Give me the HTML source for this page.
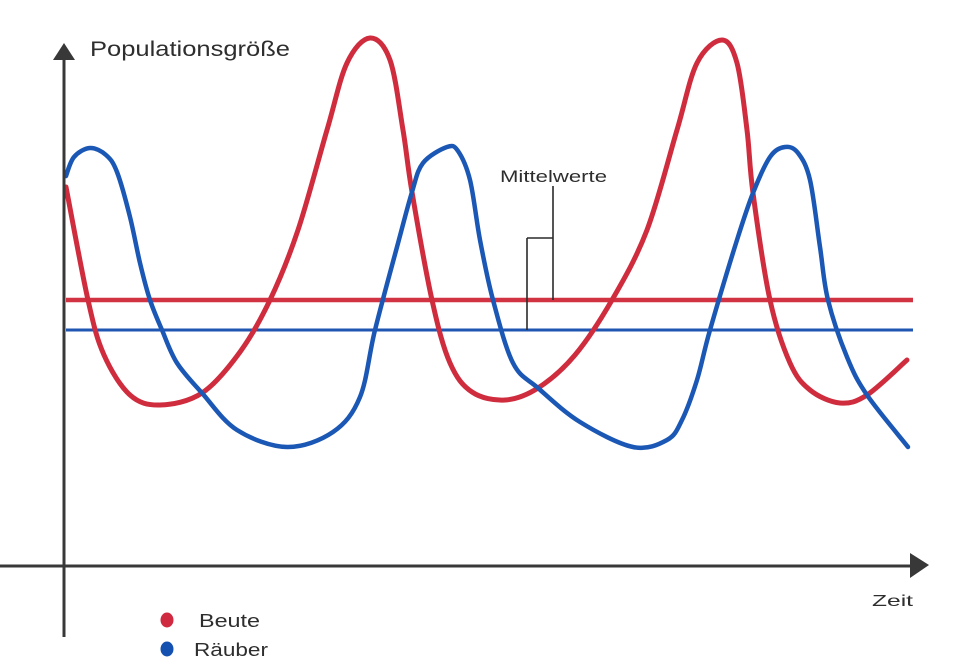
<!DOCTYPE html>
<html>
<head>
<meta charset="utf-8">
<style>
html,body{margin:0;padding:0;background:#ffffff;}
svg{display:block;}
text{font-family:"Liberation Sans","DejaVu Sans",sans-serif;fill:#2e2e2e;}
</style>
</head>
<body>
<svg width="960" height="668" viewBox="0 0 960 668" xmlns="http://www.w3.org/2000/svg">
<rect width="960" height="668" fill="#ffffff"/>
<line x1="66" y1="300" x2="913" y2="300" stroke="#d23343" stroke-width="4.5"/>
<line x1="66" y1="330" x2="913" y2="330" stroke="#1f56b2" stroke-width="3"/>
<g stroke="#2a2a2a" stroke-width="1.6" fill="none">
<line x1="553" y1="186" x2="553" y2="300"/>
<line x1="527" y1="238" x2="553" y2="238"/>
<line x1="527" y1="238" x2="527" y2="330"/>
</g>
<text x="500" y="182" font-size="17" textLength="107" lengthAdjust="spacingAndGlyphs">Mittelwerte</text>
<path fill="none" stroke="#cf2c3e" stroke-width="5" stroke-linecap="round" stroke-linejoin="round" d="M66,187 C69.7,205.8 81.7,272 88,300 C94.3,328 97,339.2 104,355 C111,370.8 120.7,386.7 130,395 C139.3,403.3 148,405.3 160,405 C172,404.7 188.7,401.8 202,393 C215.3,384.2 228.7,367.5 240,352 C251.3,336.5 260.3,320.3 270,300 C279.7,279.7 288.5,258.3 298,230 C307.5,201.7 318.8,157.8 327,130 C335.2,102.2 339.8,78.3 347,63 C354.2,47.7 362.8,38.5 370,38 C377.2,37.5 384.5,44.7 390,60 C395.5,75.3 399.3,108 403,130 C406.7,152 407.2,163.7 412,192 C416.8,220.3 425.7,271.5 432,300 C438.3,328.5 443.3,347.7 450,363 C456.7,378.3 462.8,385.8 472,392 C481.2,398.2 494,400.7 505,400 C516,399.3 526.3,395.5 538,388 C549.7,380.5 562.7,369.7 575,355 C587.3,340.3 600,320.8 612,300 C624,279.2 636.2,258.3 647,230 C657.8,201.7 668.7,157.8 677,130 C685.3,102.2 689.5,78 697,63 C704.5,48 715.3,40 722,40 C728.7,40 732.8,48 737,63 C741.2,78 744.3,108.3 747,130 C749.7,151.7 749.2,164.7 753,193 C756.8,221.3 763.8,271.7 770,300 C776.2,328.3 783.3,348 790,363 C796.7,378 801.7,383.3 810,390 C818.3,396.7 830.5,402.2 840,403 C849.5,403.8 855.8,402.2 867,395 C878.2,387.8 900.3,365.8 907,360"/>
<path fill="none" stroke="#1b57b4" stroke-width="4.5" stroke-linecap="round" stroke-linejoin="round" d="M66,176 C67.3,172.8 70,161.7 74,157 C78,152.3 84.7,148.3 90,148 C95.3,147.7 101.5,151 106,155 C110.5,159 113,161.7 117,172 C121,182.3 126.2,201.8 130,217 C133.8,232.2 136.7,249.2 140,263 C143.3,276.8 146.3,288.8 150,300 C153.7,311.2 157.5,319.5 162,330 C166.5,340.5 170.3,352.5 177,363 C183.7,373.5 192,381.8 202,393 C212,404.2 222.8,421 237,430 C251.2,439 271,446.7 287,447 C303,447.3 320.8,440.3 333,432 C345.2,423.7 353,414 360,397 C367,380 368.8,355 375,330 C381.2,305 390.8,270 397,247 C403.2,224 407.7,206 412,192 C416.3,178 417.2,170.5 423,163 C428.8,155.5 441.2,149 447,147 C452.8,145 454.2,145.5 458,151 C461.8,156.5 466.3,165.2 470,180 C473.7,194.8 476.2,220 480,240 C483.8,260 487.5,279.5 493,300 C498.5,320.5 505.5,348.3 513,363 C520.5,377.7 526.8,378.2 538,388 C549.2,397.8 564.2,412.2 580,422 C595.8,431.8 618.5,444 633,447 C647.5,450 658.8,444.5 667,440 C675.2,435.5 677,430 682,420 C687,410 692.3,395 697,380 C701.7,365 703.3,353.3 710,330 C716.7,306.7 729.8,262.8 737,240 C744.2,217.2 747.5,206.8 753,193 C758.5,179.2 764.7,164.7 770,157 C775.3,149.3 780.3,147.7 785,147 C789.7,146.3 793.8,147.5 798,153 C802.2,158.5 806.3,164.3 810,180 C813.7,195.7 817,227 820,247 C823,267 823.5,281.7 828,300 C832.5,318.3 840.5,341.2 847,357 C853.5,372.8 856.8,380 867,395 C877.2,410 901.2,438.3 908,447"/>
<g stroke="#383838" stroke-width="3" fill="none">
<line x1="64" y1="56" x2="64" y2="637"/>
<line x1="0" y1="566" x2="912" y2="566"/>
</g>
<polygon points="64,43 53,60 75,60" fill="#383838"/>
<polygon points="929,565 910,553 910,578" fill="#383838"/>
<text x="90" y="56" font-size="21" textLength="200" lengthAdjust="spacingAndGlyphs">Populationsgröße</text>
<text x="872" y="606" font-size="16" textLength="41" lengthAdjust="spacingAndGlyphs">Zeit</text>
<ellipse cx="167" cy="620" rx="6.5" ry="7.5" fill="#d02a40"/>
<ellipse cx="167" cy="649" rx="6.5" ry="7.5" fill="#1450b0"/>
<text x="199" y="627" font-size="18" textLength="61" lengthAdjust="spacingAndGlyphs">Beute</text>
<text x="194" y="656" font-size="18" textLength="74" lengthAdjust="spacingAndGlyphs">Räuber</text>
</svg>
</body>
</html>
